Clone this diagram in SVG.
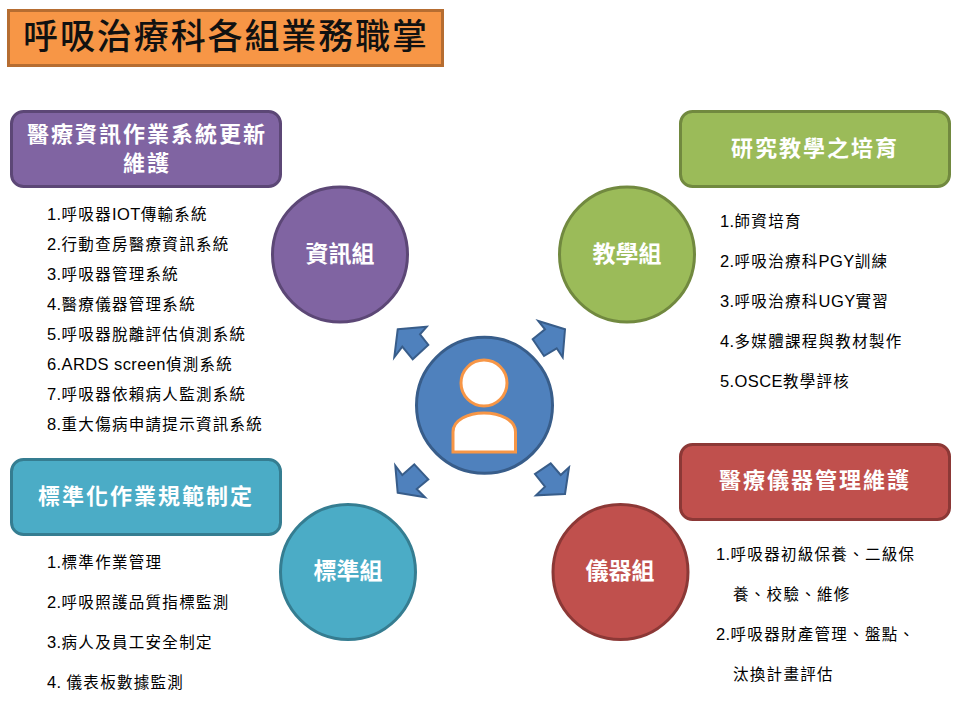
<svg xmlns="http://www.w3.org/2000/svg" width="960" height="720" viewBox="0 0 960 720">
<style>
text{font-family:"Liberation Sans","Noto Sans CJK TC",sans-serif}
.h{fill:#fff;font-size:22px;font-weight:700;text-anchor:middle;letter-spacing:2px}
.c{fill:#fff;font-size:23px;font-weight:700;text-anchor:middle}
.l{fill:#000;font-size:15.5px;letter-spacing:1.3px}
.n{font-size:16.5px;letter-spacing:.4px}
.s{stroke-width:3}
.p{fill:#4f81bd;stroke:#385d8a;stroke-width:2;stroke-linejoin:miter}
.u{fill:#fff;stroke:#f79646;stroke-width:3}
</style>
<rect width="960" height="720" fill="#fff"/>
<g id="title"><rect x="8.5" y="10.5" width="434" height="55" fill="#f79646" stroke="#b66d31" stroke-width="3"/>
<text x="226" y="49" font-size="35" font-weight="500" text-anchor="middle" letter-spacing="1.9" fill="#111">呼吸治療科各組業務職掌</text></g>
<g id="connectors">
<polygon class="p" points="397.7,329.3 426.7,326.7 420,334.3 428.3,345 412.7,359.3 402.3,346.7 394.3,357.3"/>
<polygon class="p" points="565,329.3 538.3,321 545,329.3 532.7,339.3 544,356 556.7,348.3 562.7,357.3"/>
<polygon class="p" points="397.7,492.7 425,497.3 416.7,489 428.3,479.3 414.3,464.3 402.3,475 395.3,465.7"/>
<polygon class="p" points="565,494 536,495.3 545,486.7 535,474 550.7,463.3 560.7,475 569,467.3"/>
</g>
<g id="center"><circle cx="484.5" cy="405.3" r="68" fill="#4f81bd" stroke="#385d8a" stroke-width="3"/>
<circle class="u" cx="484" cy="383" r="23"/>
<path class="u" d="M453 452V432C453 420 468 413 484 413C500 413 515.500 420 515.500 432V452Z"/></g>
<g id="info-head"><rect class="s" x="11.500" y="111.500" width="269" height="75" rx="12" fill="#8064a2" stroke="#5c4776"/>
<text class="h" x="147" y="142">醫療資訊作業系統更新</text><text class="h" x="147" y="171">維護</text></g>
<g id="info"><circle class="s" cx="340" cy="254.500" r="67.500" fill="#8064a2" stroke="#5c4776"/><text class="c" x="340" y="262">資訊組</text></g>
<g id="info-list" class="l">
<text x="47" y="220"><tspan class="n">1.</tspan>呼吸器<tspan class="n">IOT</tspan>傳輸系統</text>
<text x="47" y="250"><tspan class="n">2.</tspan>行動查房醫療資訊系統</text>
<text x="47" y="280"><tspan class="n">3.</tspan>呼吸器管理系統</text>
<text x="47" y="310"><tspan class="n">4.</tspan>醫療儀器管理系統</text>
<text x="47" y="340"><tspan class="n">5.</tspan>呼吸器脫離評估偵測系統</text>
<text x="47" y="370"><tspan class="n">6.ARDS screen</tspan>偵測系統</text>
<text x="47" y="400"><tspan class="n">7.</tspan>呼吸器依賴病人監測系統</text>
<text x="47" y="430"><tspan class="n">8.</tspan>重大傷病申請提示資訊系統</text>
</g>
<g id="teach-head"><rect class="s" x="680.500" y="111.500" width="269" height="75" rx="12" fill="#9bbb59" stroke="#71893f"/>
<text class="h" x="815" y="156">研究教學之培育</text></g>
<g id="teach"><circle class="s" cx="627" cy="254.500" r="67.500" fill="#9bbb59" stroke="#71893f"/><text class="c" x="627" y="262">教學組</text></g>
<g id="teach-list" class="l">
<text x="720" y="227"><tspan class="n">1.</tspan>師資培育</text>
<text x="720" y="267"><tspan class="n">2.</tspan>呼吸治療科<tspan class="n">PGY</tspan>訓練</text>
<text x="720" y="307"><tspan class="n">3.</tspan>呼吸治療科<tspan class="n">UGY</tspan>實習</text>
<text x="720" y="347"><tspan class="n">4.</tspan>多媒體課程與教材製作</text>
<text x="720" y="387"><tspan class="n">5.OSCE</tspan>教學評核</text>
</g>
<g id="std-head"><rect class="s" x="11.500" y="459.500" width="269" height="75" rx="12" fill="#4bacc6" stroke="#357d91"/>
<text class="h" x="146" y="504">標準化作業規範制定</text></g>
<g id="std"><circle class="s" cx="348" cy="572" r="67.500" fill="#4bacc6" stroke="#357d91"/><text class="c" x="348" y="579">標準組</text></g>
<g id="std-list" class="l">
<text x="47" y="568"><tspan class="n">1.</tspan>標準作業管理</text>
<text x="47" y="608"><tspan class="n">2.</tspan>呼吸照護品質指標監測</text>
<text x="47" y="648"><tspan class="n">3.</tspan>病人及員工安全制定</text>
<text x="47" y="688"><tspan class="n">4. </tspan>儀表板數據監測</text>
</g>
<g id="dev-head"><rect class="s" x="680.500" y="444.500" width="269" height="75" rx="12" fill="#c0504d" stroke="#8c3836"/>
<text class="h" x="815" y="488">醫療儀器管理維護</text></g>
<g id="dev"><circle class="s" cx="620.500" cy="572" r="67.500" fill="#c0504d" stroke="#8c3836"/><text class="c" x="620" y="579">儀器組</text></g>
<g id="dev-list" class="l">
<text x="716" y="560"><tspan class="n">1.</tspan>呼吸器初級保養、二級保</text>
<text x="733" y="600">養、校驗、維修</text>
<text x="716" y="640"><tspan class="n">2.</tspan>呼吸器財產管理、盤點、</text>
<text x="733" y="680">汰換計畫評估</text>
</g>
</svg>
